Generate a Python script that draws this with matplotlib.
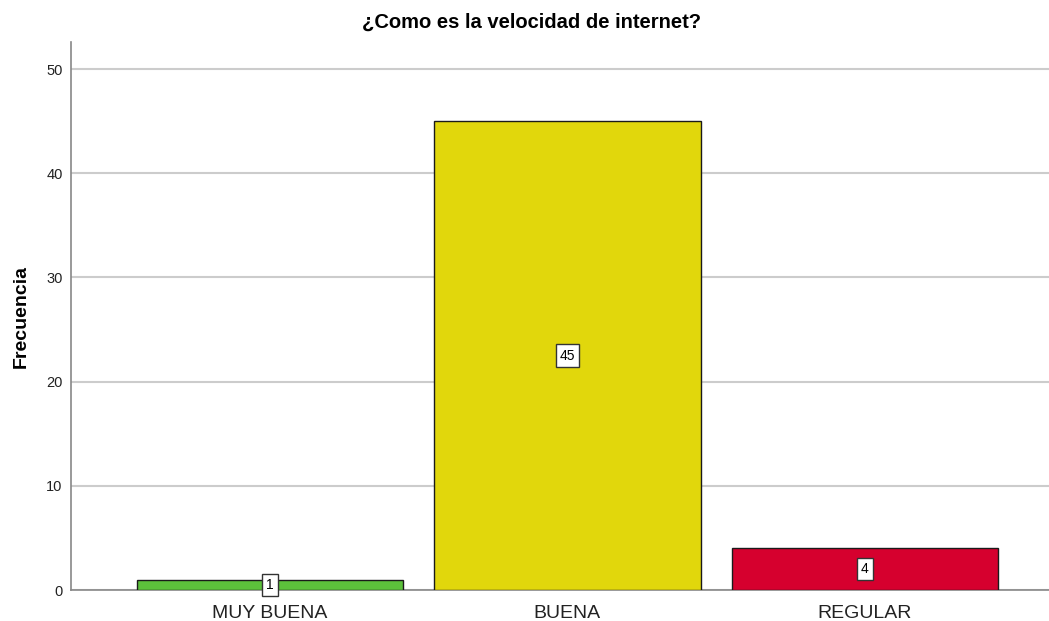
import numpy as np
import matplotlib.pyplot as plt

plt.rcParams['font.family'] = ['Liberation Sans', 'DejaVu Sans']

# Datos
categorias = ['MUY BUENA', 'BUENA', 'REGULAR']
frecuencias = [1, 45, 4]
colores = ['#5cc13b', '#e1d70c', '#d6002e']

fig = plt.figure(figsize=(10.49, 6.21), dpi=100)
ax = fig.add_axes([71 / 1049, 31 / 621, 978 / 1049, 548 / 621])

x = np.arange(len(categorias))
bars = ax.bar(x, frecuencias, width=0.896, color=colores,
              edgecolor='#1a1a1a', linewidth=1.0, zorder=3)

# Etiquetas con recuadro blanco en el centro de cada barra
for xi, v in zip(x, frecuencias):
    ax.text(xi, v / 2, str(v), ha='center', va='center', fontsize=10,
            bbox=dict(boxstyle='square,pad=0.3', facecolor='white',
                      edgecolor='#333333', linewidth=1.0), zorder=4)

ax.set_xlim(-0.67, 2.62)
ax.set_ylim(0, 52.6)
ax.set_yticks([0, 10, 20, 30, 40, 50])
ax.set_xticks(x)
ax.set_xticklabels(categorias, fontsize=14, color='#222222')
ax.tick_params(axis='y', labelsize=10.5, length=0, pad=6, colors='#222222')
ax.tick_params(axis='x', length=0, pad=11)

ax.yaxis.grid(True, color='#cccccc', linewidth=1.5, zorder=0)
ax.set_axisbelow(True)
for s in ['top', 'right']:
    ax.spines[s].set_visible(False)
ax.spines['left'].set_color('#888888')
ax.spines['bottom'].set_color('#888888')
ax.spines['left'].set_linewidth(1.2)
ax.spines['bottom'].set_linewidth(1.2)

ax.set_ylabel('Frecuencia', fontsize=14, fontweight='bold', labelpad=12)
fig.text(532 / 1049, 1 - 22 / 621, '¿Como es la velocidad de internet?',
         ha='center', va='center', fontsize=14.5, fontweight='bold')

plt.savefig('out.png', dpi=100)
